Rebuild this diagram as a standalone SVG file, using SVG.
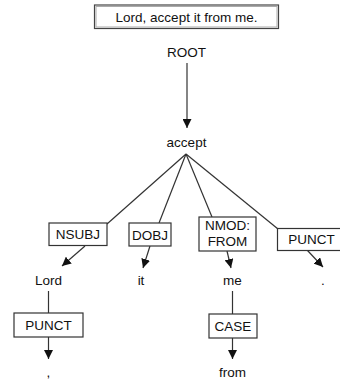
<svg xmlns="http://www.w3.org/2000/svg" width="340" height="383" viewBox="0 0 340 383">
  <style>
    text { font-family: "Liberation Sans", Arial, sans-serif; font-size: 13.5px; fill: #111; text-anchor: middle; }
    .box { fill: #fff; stroke: #333; stroke-width: 1.2; }
    .edge { stroke: #333; stroke-width: 1.2; fill: none; }
  </style>
  <defs>
    <marker id="arrow" markerUnits="userSpaceOnUse" markerWidth="9" markerHeight="9" refX="10" refY="5" viewBox="0 0 10 10" orient="auto">
      <path d="M0,0 L10,5 L0,10 z" fill="#111"/>
    </marker>
  </defs>
  <rect width="340" height="383" fill="#fff"/>

  <g id="sentence">
    <rect x="94.5" y="5" width="184" height="23.5" fill="#fff" stroke="#444" stroke-width="1.2"/>
    <rect x="96" y="6.5" width="181" height="20.5" fill="none" stroke="#aaa" stroke-width="1"/>
    <text x="186.5" y="22">Lord, accept it from me.</text>
  </g>

  <g id="connectors">
    <line class="edge" x1="187" y1="63" x2="187" y2="128" marker-end="url(#arrow)"/>
    <line class="edge" x1="186" y1="154" x2="107" y2="224"/>
    <line class="edge" x1="85" y1="246" x2="62" y2="266" marker-end="url(#arrow)"/>
    <line class="edge" x1="186" y1="154" x2="159" y2="223"/>
    <line class="edge" x1="150" y1="246" x2="143" y2="268" marker-end="url(#arrow)"/>
    <line class="edge" x1="186" y1="154" x2="212" y2="217"/>
    <line class="edge" x1="227" y1="251" x2="231" y2="268" marker-end="url(#arrow)"/>
    <line class="edge" x1="186" y1="154" x2="278" y2="229"/>
    <line class="edge" x1="307" y1="250" x2="323" y2="267" marker-end="url(#arrow)"/>
    <line class="edge" x1="48.5" y1="291" x2="48.5" y2="313"/>
    <line class="edge" x1="48.5" y1="337" x2="48.5" y2="359" marker-end="url(#arrow)"/>
    <line class="edge" x1="232.5" y1="291" x2="232.5" y2="314"/>
    <line class="edge" x1="232.5" y1="338" x2="232.5" y2="359" marker-end="url(#arrow)"/>
  </g>

  <g id="root"><text x="186.5" y="57">ROOT</text></g>
  <g id="accept"><text x="186.5" y="147">accept</text></g>

  <g id="nsubj">
    <rect class="box" x="49" y="223" width="58" height="22.5"/>
    <text x="78" y="239">NSUBJ</text>
  </g>
  <g id="dobj">
    <rect class="box" x="129" y="223" width="42" height="23"/>
    <text x="150" y="239.5">DOBJ</text>
  </g>
  <g id="nmod">
    <rect class="box" x="199" y="217" width="57" height="34"/>
    <text x="227.5" y="230">NMOD:</text>
    <text x="227.5" y="246">FROM</text>
  </g>
  <g id="punct1">
    <rect class="box" x="277.5" y="228.5" width="70" height="22"/>
    <text x="311.5" y="244">PUNCT</text>
  </g>

  <g id="lord"><text x="48.5" y="285">Lord</text></g>
  <g id="it"><text x="141" y="285">it</text></g>
  <g id="me"><text x="232.5" y="285">me</text></g>
  <g id="period"><text x="323" y="285">.</text></g>

  <g id="punct2">
    <rect class="box" x="14" y="313" width="69" height="24"/>
    <text x="48.5" y="330">PUNCT</text>
  </g>
  <g id="case">
    <rect class="box" x="209" y="314" width="48" height="24"/>
    <text x="233" y="331">CASE</text>
  </g>

  <g id="comma"><text x="48.5" y="377">,</text></g>
  <g id="from"><text x="232.5" y="377">from</text></g>
</svg>
